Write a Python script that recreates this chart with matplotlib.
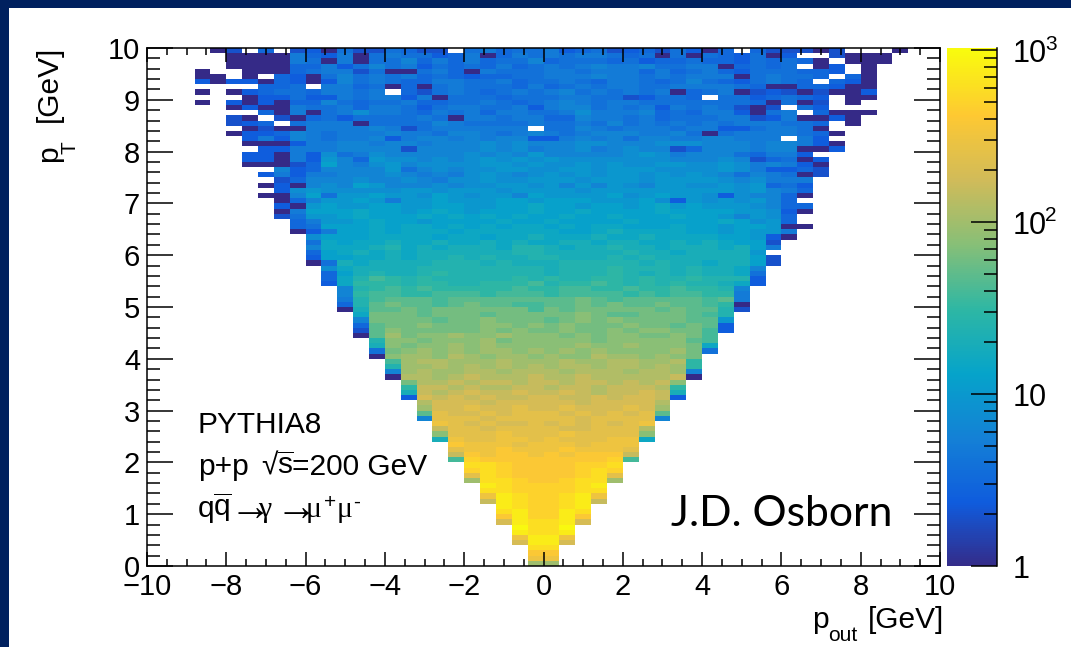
import numpy as np
import matplotlib
matplotlib.use('Agg')
import matplotlib.pyplot as plt
from matplotlib.colors import LinearSegmentedColormap, LogNorm
from matplotlib.patches import Rectangle
from matplotlib.ticker import MultipleLocator

W, H = 1071, 647

plt.rcParams['font.family'] = ['Liberation Sans', 'DejaVu Sans']
plt.rcParams['mathtext.fontset'] = 'custom'
plt.rcParams['mathtext.rm'] = 'Liberation Sans'
plt.rcParams['mathtext.it'] = 'Liberation Sans'
plt.rcParams['mathtext.default'] = 'regular'

# each char is log10(counts)*10 in base 36, '.' is an empty bin
# rows go from pT=10 down to pT=0, columns from pout=-10 to pout=10
hist_rows = [
    "....0 3.5.3 40633 6533. 67566 74563 45364 05.53 3303. ..0..",
    "..... 00007 54706 76645 70576 76776 56060 65460 4..30 00...",
    "..... 00007 60706 68575 75668 56665 64556 55465 650.0 00...",
    "..... 00005 57468 67465 65756 76787 78667 70565 6.04. 0....",
    "...0. .0005 67736 00675 07666 77677 75756 75466 6554. 0....",
    "...00 .0.54 06867 67565 45566 77787 76767 77067 665.5 0....",
    "...40 44054 04867 65577 66756 67657 76568 65467 65.54 0....",
    "..... ..556 .7756 05067 66657 56767 76677 77650 05540 0....",
    "...0. 04566 57767 .5367 65676 78676 76705 67034 30300 4....",
    "..... .0446 44767 74706 66566 67766 34665 .6645 654.0 0....",
    "...0. 40405 58656 67556 67656 78767 76666 66650 603.0 .....",
    "..... 04007 66757 76467 76674 78867 67476 76303 .64.. .....",
    "..... ..507 06797 76576 75776 67977 78565 77406 7.500 0....",
    "..... 30.30 56466 66760 77677 55877 67566 67734 70040 .....",
    "..... 345.6 77706 66687 66667 66768 67676 76777 665.0 .....",
    "..... .0300 77778 73677 7777. 66876 77767 74467 760.. .....",
    "..... 04458 76777 87768 87678 76788 87786 06777 7650. .....",
    "..... .4748 76778 47887 87884 47878 68877 88777 .74.. .....",
    "..... .0004 77887 88788 89898 88998 88999 88878 8740. .....",
    "..... ..447 77888 83888 89897 88978 98835 88878 8004. .....",
    "..... .4407 49679 88888 9898a 88888 9a978 88657 74... .....",
    "..... .4407 4a85a 99898 9a9a9 a9999 99988 89835 604.. .....",
    "..... .0003 5b879 a8999 9aa9a 99a9a 99aa9 9a978 740.. .....",
    "..... ...84 58888 a6898 99aa9 9aa9a aa999 9a974 453.. .....",
    "..... ..474 77888 98787 9a989 a9a9a a9a9a 98687 603.. .....",
    "..... ...35 88898 89879 9a99a aa9aa a9aaa a9897 77... .....",
    "..... ..040 898ba 88898 99aa9 a8a8a 98aa9 9a9a5 64... .....",
    "..... ...49 a9999 9aa9a aa9aa aa9aa aaaaa aa9a8 75... .....",
    "..... ..008 b6aab aa9ba 9aa8b aaaab 9abaa 94988 50... .....",
    "..... ...05 8aaba 7aaba aabba bbbaa ab94a 9a9a8 5.... .....",
    "..... ...40 abaab baabb aabbc bbabb abcab aaa98 55... .....",
    "..... ...07 bbbcb babcb abbbc bbcbb bbcbb bbaa9 40... .....",
    "..... ...36 aabcb bbcbc bcbcb bcbbc bbbcb ba8a9 5.... .....",
    "..... ....5 7aabc bbabb bbcbb cbbbb cbbbb bcb9a 5.... .....",
    "..... ....5 6bbbc bccbc bcbcc bcbcc bbbcb babba 00... .....",
    "..... ....0 47bbc bcccb ccccc cbbcd ccccb babaa 7.... .....",
    "..... ..... 9bbbc cccbc cbccd cccdc cdccc cbba4 0.... .....",
    "..... ..... 6cbcc dccdc cdcdc cddcd dccdc dcbb3 ..... .....",
    "..... ..... 8cccd ecdcd ddcee dcdde ddcdd dcdb7 ..... .....",
    "..... ..... 5bcdc dcddd dddee ddddd eddcd ddda. ..... .....",
    "..... ..... 4bbcc dcdde dedde eddde deddd dddb3 ..... .....",
    "..... ..... 06dcd dddee ededd deeee ededd cddb3 ..... .....",
    "..... ..... .9cdd ddeee eeeee deeef eeede ddc8. ..... .....",
    "..... ..... .5bde ddefe eeeee deeef edede ddc6. ..... .....",
    "..... ..... .5ceg fefee eeefe feeff efeef eee4. ..... .....",
    "..... ..... .4cff feffe efffg effgf efefe edc4. ..... .....",
    "..... ..... ..8ef gfgff fffgf fggff gffgf fe8.. ..... .....",
    "..... ..... ..8fg gffgg gfggg fgggg fgfgg ff7.. ..... .....",
    "..... ..... ..7eg hhhgh hhhhh hhihg hhhhh gh7.. ..... .....",
    "..... ..... ..5eh ihhgh ihhgg hhihi hhihh gf0.. ..... .....",
    "..... ..... ..0dh hihii iiiig ihiii iihih he3.. ..... .....",
    "..... ..... ...ci iihii ihiii iijih hiiih ge... ..... .....",
    "..... ..... ...8i iiihi ijiii hijij iiiih ha... ..... .....",
    "..... ..... ...5h iijii ijjij ijiii jiihi h4... ..... .....",
    "..... ..... ...3h jiiii ijiji ijiij ijjii g4... ..... .....",
    "..... ..... ...0h kijjk jjkjj jijij jiiji g.... ..... .....",
    "..... ..... ....e jjijj jkijj jjjij jjjjh g.... ..... .....",
    "..... ..... ....d jijjk jkjjj jjkjj kjjji c.... ..... .....",
    "..... ..... ....6 ijkjk jkkjk jkjkj jjjki 6.... ..... .....",
    "..... ..... ....0 jkkjl kjkkj kjjlk kjkji ..... ..... .....",
    "..... ..... ..... gkllk kklkk klkkl lkklf ..... ..... .....",
    "..... ..... ..... ekklk lklkl kllkl lklkf ..... ..... .....",
    "..... ..... ..... 8klkk llkll lklll kllk8 ..... ..... .....",
    "..... ..... ..... 0llkl mlllm llmll lllm0 ..... ..... .....",
    "..... ..... ..... .illm lmmlm mlmml mlmj. ..... ..... .....",
    "..... ..... ..... .fmml mllmm lmmlm mmlf. ..... ..... .....",
    "..... ..... ..... .dmlm nmmnm mnmlm mnmd. ..... ..... .....",
    "..... ..... ..... .4nmn mnmmn nmmnm nnm4. ..... ..... .....",
    "..... ..... ..... ..lnn nmnnn nnmnn nnl.. ..... ..... .....",
    "..... ..... ..... ..knn onnon nonnn onk.. ..... ..... .....",
    "..... ..... ..... ..hon nonoo onono noh.. ..... ..... .....",
    "..... ..... ..... ..8oo onooo oonoo oo8.. ..... ..... .....",
    "..... ..... ..... ...po nonno nonon op... ..... ..... .....",
    "..... ..... ..... ...mo onooo onnoo ol... ..... ..... .....",
    "..... ..... ..... ...jo oopoo opooo oj... ..... ..... .....",
    "..... ..... ..... ...dp ooppo pooop pc... ..... ..... .....",
    "..... ..... ..... ....q pppop ppopp p.... ..... ..... .....",
    "..... ..... ..... ....o ppqpp pqppp o.... ..... ..... .....",
    "..... ..... ..... ....m qpqqp qpqqq m.... ..... ..... .....",
    "..... ..... ..... ....g rqqqq qqqqr g.... ..... ..... .....",
    "..... ..... ..... ..... ssrqq qqrrs ..... ..... ..... .....",
    "..... ..... ..... ..... rsrqq qqrsr ..... ..... ..... .....",
    "..... ..... ..... ..... osrqq qqrso ..... ..... ..... .....",
    "..... ..... ..... ..... kssrq qrssk ..... ..... ..... .....",
    "..... ..... ..... ..... .tsrr rrst. ..... ..... ..... .....",
    "..... ..... ..... ..... .ssrr rrss. ..... ..... ..... .....",
    "..... ..... ..... ..... .ptsr rstp. ..... ..... ..... .....",
    "..... ..... ..... ..... .mtsr rstm. ..... ..... ..... .....",
    "..... ..... ..... ..... ..tsr rst.. ..... ..... ..... .....",
    "..... ..... ..... ..... ..str rts.. ..... ..... ..... .....",
    "..... ..... ..... ..... ..qtr rtq.. ..... ..... ..... .....",
    "..... ..... ..... ..... ..nts stn.. ..... ..... ..... .....",
    "..... ..... ..... ..... ...us su... ..... ..... ..... .....",
    "..... ..... ..... ..... ...ts st... ..... ..... ..... .....",
    "..... ..... ..... ..... ...pt tp... ..... ..... ..... .....",
    "..... ..... ..... ..... ...nt tn... ..... ..... ..... .....",
    "..... ..... ..... ..... ....s s.... ..... ..... ..... .....",
    "..... ..... ..... ..... ....q q.... ..... ..... ..... .....",
    "..... ..... ..... ..... ....p p.... ..... ..... ..... .....",
    "..... ..... ..... ..... ....k k.... ..... ..... ..... .....",
]

xticks = [-10, -8, -6, -4, -2, 0, 2, 4, 6, 8, 10]
yticks = [0, 1, 2, 3, 4, 5, 6, 7, 8, 9, 10]
cbar_ticks = [1, 10, 100, 1000]
cbar_labels = ['1', '10', '10', '10']
cbar_powers = ['', '', '2', '3']

# ROOT kBird palette
bird = [(0.2082, 0.1664, 0.5293), (0.0592, 0.3599, 0.8684), (0.0780, 0.5041, 0.8385),
        (0.0232, 0.6419, 0.7914), (0.1802, 0.7178, 0.6425), (0.5301, 0.7492, 0.4662),
        (0.8186, 0.7328, 0.3499), (0.9956, 0.7862, 0.1968), (0.9764, 0.9832, 0.0539)]
cmap = LinearSegmentedColormap.from_list('bird', bird, N=255)
cmap.set_bad((1, 1, 1, 0))


def parse_rows(rows):
    grid = []
    for row in rows:
        row = row.replace(' ', '')
        grid.append([np.nan if c == '.' else 10 ** (int(c, 36) / 10) for c in row])
    return np.ma.masked_invalid(np.array(grid))


def box(x0, y0, x1, y1):
    # pixel box, measured from the top left of the picture
    return [x0 / W, 1 - y1 / H, (x1 - x0) / W, (y1 - y0) / H]


def txt(x, y, s, size, **kw):
    # y is the text baseline in picture pixels
    fig.text(x / W, 1 - y / H, s, fontsize=size, va='baseline', **kw)


def vtxt(x, y, s, size):
    # rotated text, x is the baseline and y where the text starts
    fig.text(x / W, 1 - y / H, s, fontsize=size, rotation=90, ha='left', va='baseline',
             rotation_mode='anchor')


fig = plt.figure(figsize=(W / 100, H / 100), dpi=100, facecolor='white')
navy = '#00215f'
fig.add_artist(Rectangle((0, 0), 9 / W, 1, transform=fig.transFigure, color=navy, lw=0))
fig.add_artist(Rectangle((0, 1 - 8 / H), 1, 8 / H, transform=fig.transFigure, color=navy, lw=0))

ax = fig.add_axes(box(147, 48, 940, 566))
hist = parse_rows(hist_rows)
x_edges = np.linspace(-10, 10, hist.shape[1] + 1)
y_edges = np.linspace(10, 0, hist.shape[0] + 1)
mesh = ax.pcolormesh(x_edges, y_edges, hist, cmap=cmap, norm=LogNorm(1, 1030))

ax.set_xlim(-10, 10)
ax.set_ylim(0, 10)
ax.set_xticks(xticks)
ax.set_yticks(yticks)
ax.xaxis.set_minor_locator(MultipleLocator(0.5))
ax.yaxis.set_minor_locator(MultipleLocator(0.2))
ax.tick_params(axis='x', which='major', direction='in', top=True, length=10, width=1.1, labelsize=21, pad=5)
ax.tick_params(axis='x', which='minor', direction='in', top=True, length=5, width=1.1)
ax.tick_params(axis='y', which='major', direction='in', right=True, length=19, width=1.1, labelsize=21, pad=5)
ax.tick_params(axis='y', which='minor', direction='in', right=True, length=9.5, width=1.1)
for s in ax.spines.values():
    s.set_linewidth(1.1)

cax = fig.add_axes(box(947, 48, 997, 566))
cbar = fig.colorbar(mesh, cax=cax)
cbar.solids.set_edgecolor('face')
cbar.outline.set_visible(False)
cbar.set_ticks(cbar_ticks, labels=[''] * len(cbar_ticks))
cax.tick_params(axis='y', which='major', direction='in', length=19, width=1.1)
cax.tick_params(axis='y', which='minor', direction='in', length=9.5, width=1.1)
cax.spines['right'].set_visible(True)
cax.spines['right'].set_linewidth(1.1)

# the colour bar labels sit right of the bar, a power is raised on its own
for value, label, power in zip(cbar_ticks, cbar_labels, cbar_powers):
    cax.annotate(label, (1, value), xycoords=cax.get_yaxis_transform(), xytext=(11, -8.5),
                 textcoords='offset points', fontsize=22, va='baseline', annotation_clip=False)
    if power:
        cax.annotate(power, (1, value), xycoords=cax.get_yaxis_transform(), xytext=(34.5, 0.5),
                     textcoords='offset points', fontsize=15, va='baseline', annotation_clip=False)

# axis titles
txt(812, 628, 'p', 21.5)
txt(828, 641, 'out', 15)
txt(868, 628, '[GeV]', 21.5)
vtxt(57, 162, 'p', 21.5)
vtxt(75, 154, 'T', 15)
vtxt(57, 122, '[GeV]', 21.5)

# labels inside the frame
txt(198, 433, 'PYTHIA8', 21.5)
txt(198, 475, 'p+p', 21.5)
txt(261, 475, '\u221a', 21.5)
txt(277, 475, r'$\overline{s}$', 21.5)
txt(292, 475, '=200 GeV', 21.5)
txt(198, 517, 'q', 21.5)
txt(213, 517, r'$\overline{q}$', 21.5)
txt(229, 520, '\u2192', 30, family='Liberation Serif')
txt(258, 517, '\u03b3', 21.5, family='Liberation Serif')
txt(276, 520, '\u2192', 30, family='Liberation Serif')
txt(306, 517, '\u03bc', 21.5, family='Liberation Serif')
txt(324, 508, '+', 15)
txt(337, 517, '\u03bc', 21.5, family='Liberation Serif')
txt(353, 508, '-', 15)
txt(671, 526, 'J.D. Osborn', 30.7, family='Lato')

fig.savefig('out.png', dpi=100)
